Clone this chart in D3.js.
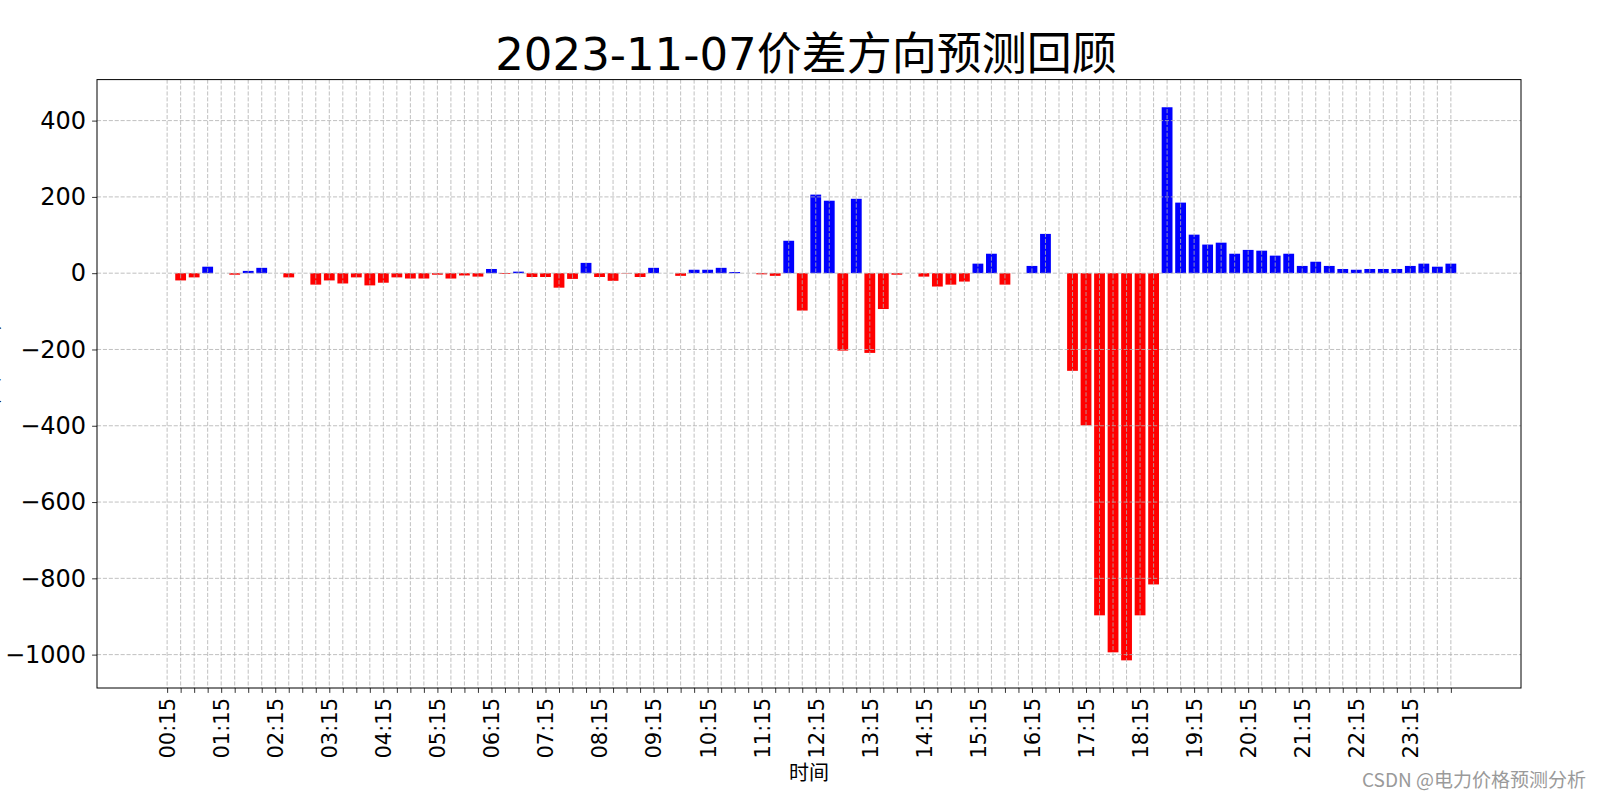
<!DOCTYPE html>
<html><head><meta charset="utf-8">
<script src="https://cdn.jsdelivr.net/npm/d3@7"></script>
<style>
body{margin:0;background:#fff;}
svg{display:block;font-family:"DejaVu Sans","Noto Sans CJK SC",sans-serif;}
</style></head>
<body><svg id="chart" width="1600" height="800"></svg>
<script>
const times = ["00:15","00:30","00:45","01:00","01:15","01:30","01:45","02:00","02:15","02:30","02:45","03:00",
"03:15","03:30","03:45","04:00","04:15","04:30","04:45","05:00","05:15","05:30","05:45","06:00",
"06:15","06:30","06:45","07:00","07:15","07:30","07:45","08:00","08:15","08:30","08:45","09:00",
"09:15","09:30","09:45","10:00","10:15","10:30","10:45","11:00","11:15","11:30","11:45","12:00",
"12:15","12:30","12:45","13:00","13:15","13:30","13:45","14:00","14:15","14:30","14:45","15:00",
"15:15","15:30","15:45","16:00","16:15","16:30","16:45","17:00","17:15","17:30","17:45","18:00",
"18:15","18:30","18:45","19:00","19:15","19:30","19:45","20:00","20:15","20:30","20:45","21:00",
"21:15","21:30","21:45","22:00","22:15","22:30","22:45","23:00","23:15","23:30","23:45","24:00"];
const values = [0,-19,-11,17,0,-4,6,14,0,-11,0,-30,
-19,-27,-11,-32,-25,-11,-14,-14,-4,-14,-6,-9,
11,-2,4,-10,-10,-38,-15,27,-10,-20,-1,-10,
14,0,-7,9,9,14,3,0,-3,-7,85,-98,
206,190,-203,195,-209,-94,-4,0,-9,-35,-30,-22,
25,51,-30,0,19,103,0,-256,-399,-897,-994,-1015,
-897,-816,435,185,101,75,80,51,61,59,46,51,
19,30,19,11,9,11,11,11,19,25,17,25];
const yTicks = [400,200,0,-200,-400,-600,-800,-1000];
const titleText = "2023-11-07价差方向预测回顾";
const xLabel = "时间";
const yLabel = "价差(元/MWh)";
const watermark = "CSDN @电力价格预测分析";

const svg = d3.select("#chart");
const L=97, R=1521, T=79.6, B=688;
const n = values.length, bw = 0.8;
const xpad = (n - 1 + bw) * 0.05;
const x = d3.scaleLinear().domain([-bw/2 - xpad, n - 1 + bw/2 + xpad]).range([L, R]);
const ymin = d3.min(values), ymax = d3.max(values), yp = (ymax - ymin) * 0.05;
const y = d3.scaleLinear().domain([ymin - yp, ymax + yp]).range([B, T]);

// bars
svg.append("g").selectAll("rect").data(values).join("rect")
  .attr("x", (d,i) => x(i - bw/2))
  .attr("width", (d,i) => x(i + bw/2) - x(i - bw/2))
  .attr("y", d => y(Math.max(0,d)))
  .attr("height", d => Math.abs(y(d) - y(0)))
  .attr("fill", d => d >= 0 ? "#0000ff" : "#ff0000");

// grid (on top of bars)
const grid = svg.append("g").attr("stroke","#b0b0b0").attr("stroke-width",0.8).attr("stroke-dasharray","4.1,1.8").attr("fill","none");
grid.selectAll("line.v").data(d3.range(n)).join("line").attr("class","v")
  .attr("x1", i => x(i)).attr("x2", i => x(i)).attr("y1", T).attr("y2", B);
grid.selectAll("line.h").data(yTicks).join("line").attr("class","h")
  .attr("x1", L).attr("x2", R).attr("y1", d => y(d)).attr("y2", d => y(d));

// axes
const xAxis = d3.axisBottom(x).tickValues(d3.range(n)).tickSize(4.9).tickPadding(4)
  .tickFormat(i => i % 4 === 0 ? times[i] : "");
const gx = svg.append("g").attr("transform", `translate(0,${B})`).call(xAxis);
gx.select(".domain").remove();
gx.selectAll(".tick line").attr("stroke","#000").attr("stroke-width",0.8);
gx.selectAll(".tick text").attr("font-size", 21).attr("fill","#000")
  .attr("font-family", "DejaVu Sans")
  .attr("transform", "rotate(-90)").attr("text-anchor","end")
  .attr("x", -10).attr("y", 0).attr("dy","0.35em");

const yAxis = d3.axisLeft(y).tickValues(yTicks).tickSize(4.9).tickPadding(6)
  .tickFormat(d => d < 0 ? "\u2212" + Math.abs(d) : String(d));
const gy = svg.append("g").attr("transform", `translate(${L},0)`).call(yAxis);
gy.select(".domain").remove();
gy.selectAll(".tick line").attr("stroke","#000").attr("stroke-width",0.8);
gy.selectAll(".tick text").attr("font-size", 24).attr("fill","#000").attr("font-family", "DejaVu Sans");

// frame
svg.append("rect").attr("x", L).attr("y", T).attr("width", R-L).attr("height", B-T)
  .attr("fill","none").attr("stroke","#000").attr("stroke-width",1);

// texts
svg.append("text").attr("x", (L+R)/2 - 3).attr("y", 70).attr("text-anchor","middle")
  .attr("font-size", 45).attr("fill","#000").text(titleText);
svg.append("text").attr("x", (L+R)/2).attr("y", 780).attr("text-anchor","middle")
  .attr("font-family","Noto Sans CJK SC")
  .attr("font-size", 20).attr("fill","#000").text(xLabel);
svg.append("text").attr("transform", `translate(-3,${(T+B)/2}) rotate(-90)`).attr("text-anchor","middle")
  .attr("font-family","Noto Sans CJK SC")
  .attr("font-size", 19).attr("fill","#000").text(yLabel);
svg.append("text").attr("x", 1586).attr("y", 787).attr("text-anchor","end")
  .attr("font-family","Noto Sans CJK SC")
  .attr("font-size", 19).attr("fill","#9a9a9a").text(watermark);
</script></body></html>
